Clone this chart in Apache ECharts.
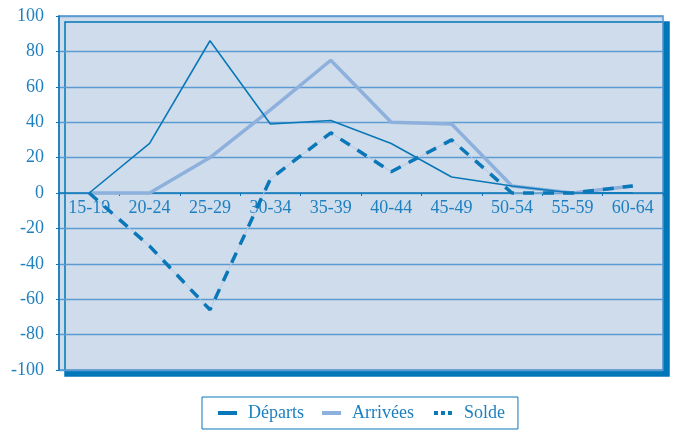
<!DOCTYPE html>
<html>
<head>
<meta charset="utf-8">
<script src="https://cdn.jsdelivr.net/npm/echarts@6/dist/echarts.min.js"></script>
<style>
  html, body { margin: 0; padding: 0; background: #ffffff; }
  #chart { width: 676px; height: 430px; }
</style>
</head>
<body>
<div id="chart"></div>
<script>
// Age groups along the horizontal axis
const ageGroups = ['15-19', '20-24', '25-29', '30-34', '35-39', '40-44', '45-49', '50-54', '55-59', '60-64'];

// Series values
const departs  = [0, 28, 86, 39, 41, 28, 9, 4, 0, 0];
const arrivees = [0, 0, 20, 47, 75, 40, 39, 4, 0, 4];
const solde    = [0, -30, -66, 8, 34, 12, 30, 0, 0, 4];

// Vertical axis range
const yMin = -100;
const yMax = 100;
const yStep = 20;

const textBlue = '#1f80c0';
const darkBlue = '#0a78b8';
const lightBlue = '#8db1dc';
const gridBlue = '#5c9bd2';
const serif = 'Liberation Serif';

const gridTop = 16;
const gridBottom = 60;
const chartHeight = 430;
const plotHeight = chartHeight - gridTop - gridBottom;

const chart = echarts.init(document.getElementById('chart'));
chart.setOption({
  animation: false,
  grid: {
    left: 59, right: 13, top: gridTop, bottom: gridBottom,
    show: true,
    backgroundColor: '#cfdcec',
    borderColor: '#4f93cc',
    borderWidth: 1.5,
    shadowColor: '#0077b8',
    shadowBlur: 0,
    shadowOffsetX: 6,
    shadowOffsetY: 6
  },
  legend: {
    left: 202,
    top: 397,
    padding: [7, 13, 7, 16],
    borderColor: darkBlue,
    borderWidth: 1,
    itemGap: 18,
    itemWidth: 19,
    itemHeight: 4,
    textStyle: { fontFamily: serif, fontSize: 18, color: textBlue, padding: [0, 0, 0, 6] },
    data: [
      { name: 'Départs', icon: 'rect', itemHeight: 3, itemStyle: { color: darkBlue } },
      { name: 'Arrivées', icon: 'rect', itemStyle: { color: lightBlue } },
      { name: 'Solde', lineStyle: { type: [4, 3], width: 4, color: darkBlue } }
    ]
  },
  xAxis: {
    type: 'category',
    data: ageGroups,
    boundaryGap: true,
    position: 'bottom',
    offset: -plotHeight / 2,
    axisLine: { onZero: false, lineStyle: { color: darkBlue, width: 1.5 } },
    axisTick: { show: true, length: 3, lineStyle: { color: darkBlue } },
    axisLabel: { fontFamily: serif, fontSize: 18, color: textBlue, margin: 6 },
    splitLine: { show: false }
  },
  yAxis: {
    type: 'value',
    min: yMin, max: yMax, interval: yStep,
    axisLine: { show: true, lineStyle: { color: darkBlue, width: 1.5 } },
    axisTick: { show: true, length: 3, lineStyle: { color: darkBlue } },
    axisLabel: { fontFamily: serif, fontSize: 18, color: textBlue, margin: 15 },
    splitLine: { lineStyle: { color: gridBlue, width: 1.3 } }
  },
  series: [
    {
      name: 'Départs', type: 'line', data: departs,
      symbol: 'none', z: 3,
      lineStyle: { color: darkBlue, width: 1.6 },
      itemStyle: { color: darkBlue }
    },
    {
      name: 'Arrivées', type: 'line', data: arrivees,
      symbol: 'none', z: 2,
      lineStyle: { color: lightBlue, width: 3.5 },
      itemStyle: { color: lightBlue }
    },
    {
      name: 'Solde', type: 'line', data: solde,
      symbol: 'none', z: 4,
      lineStyle: { color: darkBlue, width: 3.5, type: [11, 9] },
      itemStyle: { color: darkBlue }
    },
    {
      // faint hairline joining the dashes of the balance curve
      name: 'Solde', type: 'line', data: solde,
      symbol: 'none', z: 1, silent: true,
      lineStyle: { color: '#b4cae6', width: 1 },
      itemStyle: { color: '#b4cae6' }
    }
  ]
});
</script>
</body>
</html>
